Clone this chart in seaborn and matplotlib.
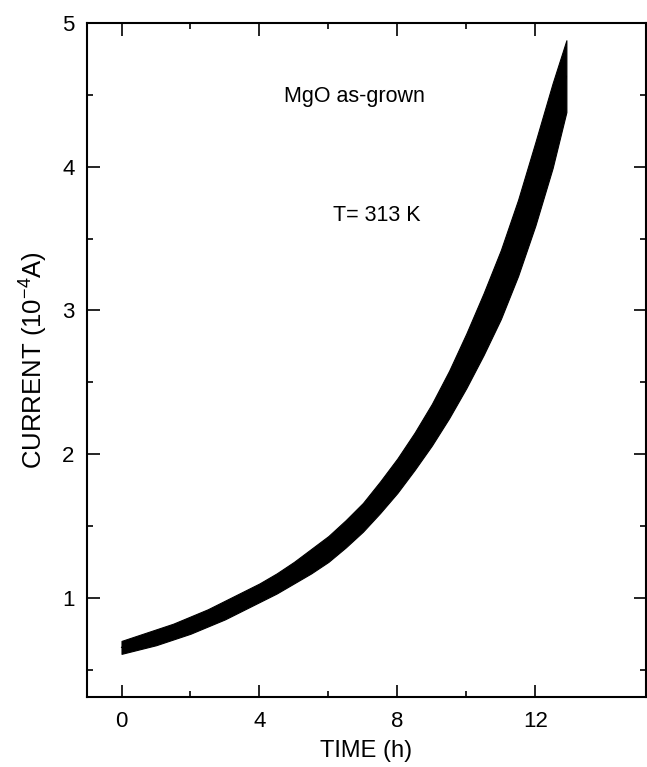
import numpy as np
import pandas as pd
import matplotlib
matplotlib.use("Agg")
import matplotlib.pyplot as plt
import seaborn as sns
from matplotlib.ticker import MultipleLocator

# Data: time (h) and lower/upper edge of the oscillating current band (1e-4 A)
time_h = [0.0, 0.5, 1.0, 1.5, 2.0, 2.5, 3.0, 3.5, 4.0, 4.5, 5.0, 5.5, 6.0, 6.5,
          7.0, 7.5, 8.0, 8.5, 9.0, 9.5, 10.0, 10.5, 11.0, 11.5, 12.0, 12.5, 12.9]
current_low = [0.61, 0.64, 0.67, 0.71, 0.75, 0.80, 0.85, 0.91, 0.97, 1.03, 1.10, 1.17, 1.25, 1.35,
               1.46, 1.59, 1.73, 1.89, 2.06, 2.25, 2.46, 2.69, 2.94, 3.24, 3.59, 3.99, 4.38]
current_high = [0.70, 0.74, 0.78, 0.82, 0.87, 0.92, 0.98, 1.04, 1.10, 1.17, 1.25, 1.34, 1.43, 1.54,
                1.66, 1.81, 1.97, 2.15, 2.35, 2.58, 2.84, 3.12, 3.42, 3.77, 4.17, 4.58, 4.88]

x_ticks = [0, 4, 8, 12]
x_minor = [2, 6, 10]
y_ticks = [1, 2, 3, 4, 5]

df = pd.DataFrame({
    "time": time_h + time_h,
    "current": current_low + current_high,
})

sns.set_style("ticks")
plt.rcParams["font.family"] = ["Liberation Sans", "DejaVu Sans"]
plt.rcParams["mathtext.fontset"] = "custom"
plt.rcParams["mathtext.rm"] = "Liberation Sans"
plt.rcParams["mathtext.it"] = "Liberation Sans"
plt.rcParams["text.color"] = "black"
plt.rcParams["axes.labelcolor"] = "black"
plt.rcParams["xtick.color"] = "black"
plt.rcParams["ytick.color"] = "black"

fig = plt.figure(figsize=(6.47, 7.67), dpi=100)
ax = fig.add_axes([0.1345, 0.0913, 0.8635, 0.8787])

sns.lineplot(data=df, x="time", y="current", ax=ax, color="black",
             estimator="mean", errorbar=lambda s: (s.min(), s.max()),
             err_kws={"alpha": 1.0, "linewidth": 0.8, "edgecolor": "black"},
             linewidth=1.0)

ax.set_xlim(-1.0, 15.2)
ax.set_ylim(0.31, 5.0)
ax.set_xticks(x_ticks)
ax.set_xticks(x_minor, minor=True)
ax.set_yticks(y_ticks)
ax.yaxis.set_minor_locator(MultipleLocator(0.5))

ax.tick_params(which="both", direction="in", top=True, right=True, width=1.2,
               labelsize=16, colors="black")
ax.tick_params(which="major", length=9, pad=9)
ax.tick_params(which="minor", length=4.5)
ax.tick_params(axis="x", which="major", pad=10)
for s in ax.spines.values():
    s.set_linewidth(1.5)
    s.set_color("black")

ax.set_xlabel("TIME (h)", fontsize=17, labelpad=6, color="black")
ax.set_ylabel("CURRENT (10$^{\\mathregular{-4}}$A)", fontsize=18.5, labelpad=9, color="black")

ax.text(6.76, 4.49, "MgO as-grown", fontsize=15.5, ha="center", va="center", color="black")
ax.text(7.4, 3.66, "T= 313 K", fontsize=15.5, ha="center", va="center", color="black")

fig.savefig("out.png", dpi=100)
